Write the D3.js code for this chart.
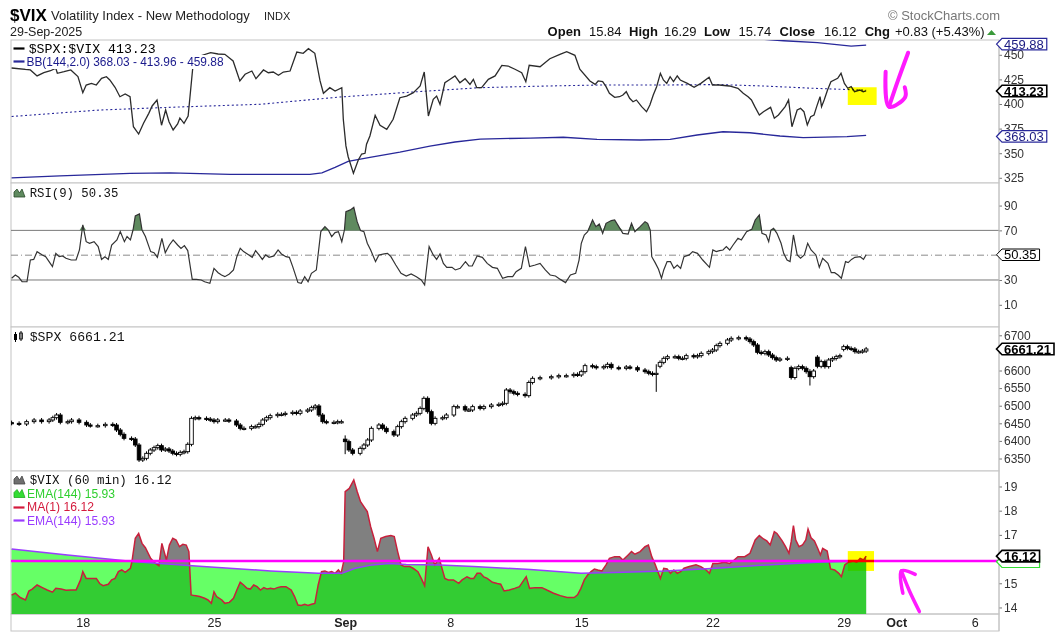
<!DOCTYPE html>
<html>
<head>
<meta charset="utf-8">
<script src="https://cdn.jsdelivr.net/npm/d3@7"></script>
<style>
  body { margin: 0; background: #fff; }
  svg text { font-family: "Liberation Sans", Arial, sans-serif; }
</style>
</head>
<body>
<div id="chart"></div>
<script>
// trading sessions shown on the axis (7 hourly bars each, data starts on bar 2 of the first one)
const sessions = ["2025-08-13","2025-08-14","2025-08-15","2025-08-18","2025-08-19","2025-08-20","2025-08-21","2025-08-22",
  "2025-08-25","2025-08-26","2025-08-27","2025-08-28","2025-08-29","2025-09-02","2025-09-03","2025-09-04","2025-09-05",
  "2025-09-08","2025-09-09","2025-09-10","2025-09-11","2025-09-12","2025-09-15","2025-09-16","2025-09-17","2025-09-18",
  "2025-09-19","2025-09-22","2025-09-23","2025-09-24","2025-09-25","2025-09-26","2025-09-29","2025-09-30","2025-10-01",
  "2025-10-02","2025-10-03","2025-10-06","2025-10-07"];
const barsPerSession = 7;
const firstBar = 2;

// $SPX:$VIX ratio  [bar, value]
const ratio = [[0,436.6],[5.0,434.6],[6.8,428.5],[8.6,431.8],[10.4,433.8],[11.8,436.3],[12.2,431.2],[14.0,432.8],[15.8,434.6],
  [17.7,427.8],[19.0,411.5],[19.9,419.3],[21.3,421.0],[22.6,419.3],[24.0,426.1],[25.3,427.7],[26.2,424.4],[27.6,417.0],
  [28.9,407.4],[30.3,410.2],[31.6,407.4],[32.5,376.9],[33.9,369.5],[35.2,380.4],[36.6,390.5],[37.5,398.0],[38.8,404.1],
  [40.0,378.4],[41.1,393.9],[42.0,382.0],[43.1,373.6],[44.3,379.7],[44.9,385.8],[46.0,380.4],[47.1,387.8],[48.3,435.3],
  [50.3,448.8],[53.1,452.1],[55.1,450.8],[56.9,450.5],[59.1,443.7],[60.9,423.4],[62.3,430.2],[64.1,433.5],[65.2,425.7],
  [67.2,434.6],[68.5,431.8],[69.8,432.5],[71.2,429.2],[72.5,432.5],[74.3,433.5],[76.1,452.8],[77.8,451.5],[79.2,456.2],
  [80.9,451.5],[82.3,423.4],[83.2,410.9],[84.9,416.6],[86.3,413.2],[88.1,416.6],[88.5,384.5],[89.2,357.4],[89.8,346.4],
  [91.2,329.6],[92.5,343.1],[93.4,349.2],[94.3,349.9],[94.7,359.1],[95.6,367.5],[97.0,388.5],[98.3,378.4],[100.1,374.3],
  [101.8,384.5],[103.6,406.4],[105.4,408.1],[107.2,411.5],[109.0,418.3],[110.1,432.5],[111.2,387.8],[112.5,404.8],
  [113.4,408.1],[114.3,399.7],[115.6,421.6],[117.0,425.1],[118.3,428.5],[119.6,421.6],[121.0,425.7],[122.3,420.0],
  [123.2,425.1],[124.1,416.6],[125.4,416.6],[127.2,425.1],[129.0,428.5],[130.8,439.3],[132.5,438.6],[134.3,435.3],
  [136.1,431.8],[137.2,422.7],[138.1,439.3],[141.0,437.9],[143.6,446.0],[146.3,450.5],[148.1,453.2],[150.3,449.5],
  [151.6,435.3],[154.3,423.4],[155.7,420.0],[156.5,423.4],[157.7,422.7],[158.6,417.6],[159.5,410.9],[160.9,406.8],
  [162.2,407.4],[163.1,409.1],[164.0,412.5],[164.9,405.8],[165.8,402.3],[166.7,404.1],[168.1,397.3],[169.4,392.2],
  [170.3,399.0],[171.2,409.1],[172.1,417.6],[173.1,431.2],[173.9,424.4],[174.8,421.0],[175.7,427.7],[176.6,422.7],
  [177.6,428.5],[178.4,424.4],[180.3,421.0],[182.1,417.0],[183.9,421.0],[186.1,427.1],[187.0,419.3],[188.8,419.3],
  [191.5,418.3],[193.8,416.0],[195.2,410.9],[196.5,407.4],[197.4,404.1],[198.3,397.3],[199.5,388.8],[200.6,392.2],
  [202.5,396.6],[203.5,385.5],[204.6,388.8],[206.4,397.3],[207.3,404.1],[208.2,376.9],[209.6,393.9],[210.5,395.6],
  [211.4,392.2],[212.3,378.7],[213.2,387.1],[214.1,388.8],[214.8,397.3],[215.7,407.4],[216.1,397.3],[216.8,404.1],
  [217.7,414.2],[218.6,422.7],[220.4,426.1],[221.3,431.2],[222.2,421.0],[223.1,416.0],[224.0,417.6],[224.9,412.5],
  [226.3,414.2],[227.2,412.5],[228,413.23]];

// Bollinger bands (144, 2.0) on the ratio
const bbUpper = [[0,478],[25,470],[46,465.8],[70,472],[100,478],[130,476],[160,472],[185,468],[199.7,466],[206,464.3],
  [215,462.3],[224,458.9],[228,459.88]];
const bbMiddle = [[0,387.3],[23.6,393.9],[44.9,397.0],[66.3,399.7],[87.6,407.1],[107.1,412.2],[125,416.6],[142.9,418.3],
  [157,419.3],[173.8,419.3],[188.2,419.8],[200.5,418.3],[213.8,416.0],[228,413.96]];
const bbLower = [[0,325.0],[12.9,327.0],[31.6,329.5],[42.3,330.0],[58.3,328.5],[79.6,328.5],[82.8,330.0],[86.3,335.6],
  [89.8,341.7],[95.6,345.8],[103.6,351.2],[111.6,357.3],[118.3,361.4],[125,364.4],[138.4,365.4],[147.2,366.2],
  [156.2,364.1],[167.7,363.4],[175.7,364.1],[182.9,368.5],[189.8,371.8],[197,370.8],[205,367.5],[211.2,365.8],
  [222.9,366.8],[228,368.03]];

// RSI(9)
const rsi = [[0,31.4],[1.0,34.0],[1.9,32.2],[2.8,28.6],[4.1,28.6],[5.0,46.1],[5.9,46.6],[6.8,52.8],[8.2,50.2],[9.1,48.8],
  [10.0,44.8],[10.9,40.8],[11.8,51.5],[12.7,48.8],[13.6,49.4],[14.5,47.5],[15.9,46.1],[17.2,46.1],[18.1,54.2],[19.0,74.4],
  [19.9,60.9],[20.8,59.6],[22.0,60.9],[23.1,56.9],[24.0,46.6],[24.9,48.8],[25.8,46.6],[26.7,58.2],[28.1,62.3],[29.0,69.0],
  [30.1,60.9],[30.8,65.0],[31.7,62.3],[32.4,70.3],[33.0,81.6],[34.1,83.2],[34.8,70.3],[35.7,65.0],[37.1,52.9],[38.0,52.0],
  [38.9,48.3],[40.1,63.6],[41.0,52.0],[42.1,58.2],[43.1,62.3],[44.3,58.2],[45.2,55.5],[46.1,57.7],[47.0,53.7],[48.2,30.5],
  [49.3,30.5],[50.6,30.0],[51.5,28.6],[52.9,27.3],[54.0,39.4],[55.1,35.9],[56.0,34.0],[56.9,32.7],[58.1,34.9],[59.2,38.1],
  [60.1,48.8],[61.0,55.5],[61.9,52.9],[63.3,50.2],[64.2,48.3],[65.1,53.7],[66.0,50.2],[66.9,46.6],[67.8,50.2],[68.7,48.3],
  [70.0,49.4],[71.1,54.2],[72.0,51.0],[73.2,48.8],[74.1,48.3],[75.0,40.8],[76.4,27.9],[77.3,27.3],[78.2,32.7],[79.1,28.6],
  [80.0,35.4],[81.3,38.1],[82.5,69.0],[83.6,73.0],[84.5,70.3],[85.4,65.0],[86.3,68.2],[87.2,69.0],[88.1,60.9],[88.8,70.3],
  [89.2,85.1],[90.4,86.5],[91.3,88.6],[92.2,77.0],[93.1,69.8],[94.0,69.0],[94.9,59.6],[95.8,54.2],[97.1,44.8],[98.0,50.2],
  [99.4,51.0],[100.3,51.5],[101.2,48.8],[102.5,42.1],[103.9,35.4],[105.3,33.2],[106.6,34.9],[108.0,32.7],[109.3,30.0],
  [110.2,26.0],[111.4,56.9],[112.5,50.2],[113.4,46.6],[114.3,51.0],[115.2,43.4],[116.1,40.2],[117.5,40.2],[118.4,38.1],
  [119.7,39.4],[121.1,44.8],[122.0,41.3],[122.9,41.3],[124.2,49.4],[125.6,48.3],[126.9,43.4],[128.3,40.2],[129.6,39.4],
  [131.0,31.4],[132.4,32.7],[133.7,32.7],[134.6,36.7],[136.0,39.4],[137.1,56.9],[138.2,40.8],[139.7,42.1],[141.0,43.4],
  [142.4,38.1],[143.7,34.0],[145.1,33.2],[146.4,30.5],[147.8,27.9],[149.1,34.0],[150.5,35.4],[151.4,46.1],[152.0,59.6],
  [152.8,66.3],[153.7,69.0],[155.0,78.4],[155.9,73.0],[156.8,75.2],[157.7,67.6],[158.6,75.7],[160.0,77.9],[160.9,78.4],
  [162.0,73.0],[163.1,67.6],[164.5,67.1],[165.4,75.7],[166.3,69.0],[167.7,73.0],[169.0,77.0],[169.7,75.7],[170.4,70.3],
  [170.8,48.8],[171.7,44.0],[172.6,38.6],[173.4,31.4],[174.0,38.1],[174.9,44.8],[175.8,44.8],[176.7,39.4],[177.6,42.1],
  [178.5,39.4],[179.4,48.8],[180.8,50.2],[181.7,52.9],[183.0,51.5],[184.4,46.1],[186.2,40.2],[187.1,54.2],[188.0,52.9],
  [188.9,53.7],[189.8,54.2],[190.7,56.9],[191.6,54.2],[192.5,58.2],[193.8,63.6],[194.7,62.3],[196.1,69.0],[197.5,70.9],
  [198.4,78.4],[199.5,82.4],[200.2,67.6],[201.3,66.3],[202.0,60.9],[202.6,70.3],[203.3,71.6],[204.2,67.6],[205.3,59.6],
  [206.0,51.5],[206.9,46.1],[207.7,44.8],[208.6,66.3],[209.6,50.2],[210.5,47.5],[211.5,50.2],[212.4,59.6],[213.3,54.2],
  [214.6,50.2],[215.5,40.2],[216.4,47.5],[217.8,43.4],[218.7,35.9],[219.6,35.9],[220.5,34.0],[221.4,31.4],[222.5,44.8],
  [223.2,44.0],[224.1,46.6],[225.0,48.3],[226.4,48.8],[227.3,46.6],[228,50.35]];
const rsiLevels = [30, 50, 70];

// $SPX hourly candles  [bar, close, open?, high?, low?]  (open defaults to the previous close)
const spx = [[0,6449.9,6452],[2,6448.0],[4,6454.7],[6,6459.4],[8,6454.7],[10,6459.4],[11,6466.0],[12,6473.6],[13,6452.8],
  [15,6454.7],[16,6459.4],[18,6452.8],[20,6445.2],[21,6443.3],[23,6443.3],[25,6447.1],[27,6445.2],[28,6431.0],[29,6418.7],
  [30,6407.3],[32,6405.4],[33,6388.4],[34,6345.8],[35,6350.5],[36,6364.7],[37,6374.2],[38,6380.8],[39,6386.5],[40,6374.2],
  [41,6377.0],[42,6371.3],[43,6364.7],[44,6361.9],[45,6367.5],[46,6369.4],[47,6390.3],[48,6464.1],[49,6466.0],[50,6464.1],
  [52,6462.2],[53,6459.4],[54,6454.7],[55,6459.4],[57,6459.4],[58,6456.6],[60,6445.2],[61,6435.7],[62,6435.7],[64,6440.5],
  [65,6440.5],[66,6447.1],[67,6459.4],[68,6466.0],[69,6471.7],[71,6475.5],[72,6475.5],[73,6478.3],[75,6481.2],[76,6478.3],
  [77,6484.9],[79,6487.8],[80,6494.4],[81,6499.2],[82,6473.6],[83,6454.7],[84,6452.8],[86,6452.8],[87,6454.7],[88,6454.7],
  [89,6397.9,6405,6410,6368],[90,6374.2],[91,6364.7],[93,6378.9],[94,6388.4],[95,6402.6],[96,6435.7],[98,6445.2],
  [99,6435.7],[100,6426.3],[102,6416.8],[103,6440.5],[104,6454.7],[105,6464.1],[107,6473.6],[108,6478.3],[109,6492.5],
  [110,6521.0],[111,6483.1],[112,6449.9],[113,6464.1],[115,6466.0],[116,6473.6],[118,6497.3],[119,6497.3],[121,6487.8],
  [122,6487.8],[123,6497.3],[125,6492.5],[126,6497.3],[128,6502.0],[130,6503.9],[131,6506.8],[132,6544.6],[133,6539.9],
  [134,6535.2],[135,6532.3],[137,6528.5],[138,6566.0],[139,6577.8],[141,6579.7],[144,6582.5],[146,6585.4],[148,6585.4],
  [150,6589.1],[151,6587.3],[152,6596.7],[153,6613.8],[155,6611.0],[156,6608.1],[158,6611.0],[159,6617.6],[160,6608.1],
  [162,6606.2],[164,6610.0],[165,6608.1],[167,6601.5],[169,6596.7],[170,6592.0],[171,6589.1],[172,6592.0,6589.1,6612,6545],
  [173,6623.2,6612],[174,6634.6],[175,6639.3],[177,6639.3],[178,6634.6],[179,6634.6],[180,6642.2],[182,6639.3],[183,6642.2],
  [184,6648.8],[186,6653.5],[187,6658.3],[188,6670.6],[189,6677.2],[191,6686.7],[192,6691.4],[194,6693.3],[196,6689.5],
  [197,6682.0],[198,6672.5],[199,6651.6],[200,6648.8],[201,6653.5],[202,6644.1],[203,6636.5],[204,6629.9],[205,6632.7],
  [207,6634.6],[208,6580.0,6608],[209,6606.2],[210,6611.0],[211,6606.2],[212,6596.7],[213,6582.5,6596.7,6598,6563],
  [214,6598.6],[215,6612.0,6638],[216,6625.1],[217,6611.0],[218,6629.9],[219,6634.0],[220,6639.3],[221,6642.2],
  [222,6667.7,6660],[223,6663.0],[224,6661.1],[225,6653.5],[226,6653.5],[227,6655.4],[228,6661.21]];

// $VIX (60 min) and its EMA(144)
const vix = [[0,14.51],[1.0,14.59],[2.3,14.41],[3.7,14.31],[4.6,14.68],[5.5,14.76],[6.8,14.93],[8.2,14.82],[9.5,14.72],
  [10.9,14.63],[11.8,14.79],[13.2,14.76],[14.5,14.71],[15.9,14.72],[17.2,14.72],[18.4,15.14],[19.0,15.48],[19.9,15.20],
  [21.3,15.20],[22.6,15.20],[23.5,14.99],[24.4,14.90],[25.8,14.96],[26.7,15.14],[27.6,15.20],[28.5,15.48],[29.4,15.55],
  [30.3,15.45],[31.7,15.62],[32.1,15.89],[33.0,16.86],[33.9,17.06],[34.8,16.65],[35.7,16.47],[37.1,16.03],[38.4,15.82],
  [39.3,15.73],[40.1,16.65],[40.7,16.31],[41.3,15.96],[42.1,16.58],[43.0,16.86],[43.9,16.79],[44.8,16.51],[45.7,16.61],
  [46.6,16.58],[47.3,16.31],[47.9,14.52],[48.8,14.49],[50.2,14.45],[51.5,14.38],[52.4,14.31],[53.3,14.17],[54.0,14.65],
  [54.7,14.45],[56.1,14.31],[56.9,14.17],[58.1,14.21],[59.2,14.38],[60.1,14.72],[61.0,15.04],[61.9,14.93],[62.8,14.79],
  [63.7,14.76],[64.6,14.93],[65.5,14.86],[66.4,14.72],[67.3,14.82],[68.2,14.76],[69.1,14.79],[70.0,14.76],[70.9,14.82],
  [71.9,14.86],[73.2,14.86],[74.6,14.72],[75.5,14.45],[76.4,14.10],[77.3,14.08],[78.2,14.13],[79.1,14.08],[80.0,14.13],
  [80.9,14.17],[81.8,14.93],[82.7,15.48],[83.6,15.51],[84.5,15.45],[85.4,15.48],[86.3,15.41],[87.2,15.55],[87.9,15.41],
  [88.6,15.89],[89.0,18.79],[90.1,18.92],[91.3,19.27],[92.2,18.79],[93.1,18.37],[94.0,18.17],[94.9,17.96],[95.8,17.34],
  [96.7,16.86],[97.6,16.31],[98.5,16.86],[99.8,16.93],[101.2,16.97],[102.1,16.93],[103.0,16.31],[103.9,15.76],[104.8,15.69],
  [106.2,15.69],[107.1,15.62],[108.4,15.48],[109.3,15.20],[110.2,14.90],[111.1,16.51],[112.0,16.17],[112.9,15.76],
  [114.1,16.03],[114.7,15.69],[115.6,15.20],[116.5,15.14],[117.9,15.14],[119.3,15.00],[120.2,15.14],[121.5,15.27],
  [122.4,15.20],[123.3,15.20],[124.2,15.41],[125.1,15.41],[126.0,15.26],[126.9,15.20],[128.3,15.04],[129.6,14.99],
  [130.5,14.96],[131.4,14.68],[132.8,14.72],[134.2,14.79],[135.5,14.86],[136.4,15.07],[137.3,15.27],[138.2,14.79],
  [139.7,14.82],[141.5,14.82],[142.8,14.72],[144.6,14.59],[146.4,14.49],[148.2,14.41],[150.1,14.41],[151.0,14.52],
  [151.9,14.79],[152.8,15.14],[153.7,15.34],[154.6,15.48],[155.5,15.59],[156.4,15.55],[157.5,15.51],[158.6,15.76],
  [159.5,16.03],[160.9,16.10],[162.2,16.10],[163.1,15.96],[164.5,16.17],[165.4,16.31],[166.3,16.20],[167.7,16.31],
  [169.0,16.51],[169.9,16.58],[170.8,16.10],[171.7,15.78],[173.1,15.20],[174.0,15.62],[174.9,15.59],[175.8,15.41],
  [176.7,15.55],[177.6,15.41],[178.5,15.48],[179.4,15.62],[180.8,15.69],[182.6,15.76],[183.9,15.69],[185.3,15.55],
  [186.2,15.41],[187.1,15.82],[188.4,15.82],[190.2,15.87],[191.6,15.82],[192.5,15.92],[193.8,16.10],[195.6,16.10],
  [197.0,16.24],[198.4,16.79],[199.5,16.97],[200.6,16.83],[201.5,16.75],[202.4,16.58],[203.5,17.13],[204.2,17.06],
  [205.6,16.75],[206.5,16.51],[207.4,16.24],[208.0,16.72],[208.6,17.38],[209.2,16.79],[210.1,16.51],[211.0,16.58],
  [211.9,16.79],[212.5,17.24],[213.3,16.88],[214.2,16.75],[215.1,16.44],[215.8,16.17],[216.4,16.44],[217.6,16.33],
  [218.5,15.59],[219.6,15.55],[220.7,15.41],[221.4,15.27],[222.3,15.76],[223.2,15.87],[224.6,15.92],[225.5,15.87],
  [226.4,16.03],[227.3,15.96],[228,16.12]];
const vixEma = [[0,16.42],[14.9,16.17],[33.0,15.89],[51.1,15.69],[69.1,15.51],[81.8,15.41],[88.1,15.41],[91.7,15.62],
  [96.2,15.76],[100.7,15.82],[105.3,15.78],[114.3,15.76],[123.3,15.69],[138.4,15.57],[151.9,15.41],[160.9,15.45],
  [174.4,15.51],[188.0,15.62],[201.5,15.76],[215.1,15.87],[228,15.93]];

// quote header
const qOpen = 15.84, qHigh = 16.29, qLow = 15.74, qClose = 16.12, qChg = 0.83, qPct = 5.43;

// hand-drawn annotations (data units)
const markLevel = 15.92;
const ratioArrow = [[[239.2,452.1],[236.5,424],[234.1,397.3]], [[233.2,432.8],[234.1,397.3],[238.4,406.9],[238.3,417.0]]];
const vixArrow = [[[242.2,13.83],[239.5,14.7],[237.4,15.51]], [[241.1,15.37],[237.4,15.51],[237.8,14.59]]];
const ratioHighlight = [223.1, 230.8, 399.0, 417.0];
const vixHighlight = [223.1, 230.1, 15.51, 16.33];

const W = 1059, H = 634;
const L = 11, R = 999;
const svg = d3.select("#chart").append("svg").attr("width", W).attr("height", H);

const x = d3.scaleLinear().domain([-0.16, (R - 11.6) / 3.748]).range([L, R]);

const yRatio = d3.scaleLinear().domain([319.72, 465.04]).range([183, 40]);
const yRsi = d3.scaleLinear().domain([-7.9, 108.2]).range([327, 183]);
const ySpx = d3.scaleLinear().domain([6314.5, 6723.6]).range([471, 327]);
const yVix = d3.scaleLinear().domain([13.73, 19.64]).range([614, 471]);

// tick labels that sit under a value tag are left blank, as on the original
const panels = [
  {id: "p1", y: yRatio, ticks: [325, 350, 375, 400, 425, 450], hidden: []},
  {id: "p2", y: yRsi, ticks: [10, 30, 50, 70, 90], hidden: [50]},
  {id: "p3", y: ySpx, ticks: [6350, 6400, 6450, 6500, 6550, 6600, 6650, 6700], hidden: [6650]},
  {id: "p4", y: yVix, ticks: [14, 15, 16, 17, 18, 19], hidden: [16]}
];

const defs = svg.append("defs");
panels.forEach(p => {
  const [b, t] = p.y.range();
  defs.append("clipPath").attr("id", "clip-" + p.id)
    .append("rect").attr("x", L).attr("y", t).attr("width", R - L).attr("height", b - t);
});

// ---------- header ----------
svg.append("text").attr("x", 10).attr("y", 20.5).style("font-size", "17px").style("font-weight", "bold").text("$VIX");
svg.append("text").attr("x", 51).attr("y", 20).style("font-size", "13px").attr("fill", "#222").text("Volatility Index - New Methodology");
svg.append("text").attr("x", 264).attr("y", 20).style("font-size", "11px").attr("fill", "#222").text("INDX");
svg.append("text").attr("x", 10).attr("y", 36).style("font-size", "12.5px").attr("fill", "#222").text("29-Sep-2025");
svg.append("text").attr("x", 888).attr("y", 20).style("font-size", "13px").attr("fill", "#777").text("\u00a9 StockCharts.com");

const quote = [["Open", true, 547.6], [qOpen.toFixed(2), false, 589], ["High", true, 629], [qHigh.toFixed(2), false, 664],
  ["Low", true, 704], [qLow.toFixed(2), false, 738.6], ["Close", true, 779.5], [qClose.toFixed(2), false, 824],
  ["Chg", true, 864.7], [`+${qChg.toFixed(2)} (+${qPct.toFixed(2)}%)`, false, 895]];
quote.forEach(([t, bold, px]) => {
  svg.append("text").attr("x", px).attr("y", 35.5).style("font-size", "13px")
    .style("font-weight", bold ? "bold" : "normal").attr("fill", "#111").text(t);
});
svg.append("path").attr("d", "M987,35 L996,35 L991.5,30 Z").attr("fill", "#3a9a3a");

// ---------- panel frames ----------
panels.forEach(p => {
  const [b, t] = p.y.range();
  svg.append("rect").attr("x", L).attr("y", t).attr("width", R - L).attr("height", b - t)
    .attr("fill", "#fff").attr("stroke", "#c4c4c4");
});
svg.append("rect").attr("x", L).attr("y", 614).attr("width", R - L).attr("height", 17)
  .attr("fill", "none").attr("stroke", "#c4c4c4");

const lineOf = y => d3.line().x(d => x(d[0])).y(d => y(d[1]));

// ---------- panel 1: ratio + BB ----------
const g1 = svg.append("g").attr("clip-path", "url(#clip-p1)");
const bbColor = "#28289a";
g1.append("path").datum(bbUpper).attr("d", lineOf(yRatio)).attr("fill", "none").attr("stroke", bbColor).attr("stroke-width", 1.3);
g1.append("path").datum(bbLower).attr("d", lineOf(yRatio)).attr("fill", "none").attr("stroke", bbColor).attr("stroke-width", 1.3);
g1.append("path").datum(bbMiddle).attr("d", lineOf(yRatio)).attr("fill", "none").attr("stroke", bbColor)
  .attr("stroke-width", 1.1).attr("stroke-dasharray", "2,2.5");
g1.append("path").datum(ratio).attr("d", lineOf(yRatio)).attr("fill", "none").attr("stroke", "#2b2b2b").attr("stroke-width", 1.3);

// ---------- panel 2: RSI ----------
const g2 = svg.append("g").attr("clip-path", "url(#clip-p2)");
rsiLevels.forEach(v => {
  g2.append("line").attr("x1", L).attr("x2", R).attr("y1", yRsi(v)).attr("y2", yRsi(v))
    .attr("stroke", v === 50 ? "#8a8a8a" : "#7a7a7a").attr("stroke-width", 1)
    .attr("stroke-dasharray", v === 50 ? "7,3,1,3" : null);
});
g2.append("path").datum(rsi)
  .attr("d", d3.area().x(d => x(d[0])).y0(yRsi(70)).y1(d => yRsi(Math.max(d[1], 70))))
  .attr("fill", "#5f8a5f");
g2.append("path").datum(rsi).attr("d", lineOf(yRsi)).attr("fill", "none").attr("stroke", "#333").attr("stroke-width", 1.2);

// ---------- panel 3: SPX candles ----------
const g3 = svg.append("g").attr("clip-path", "url(#clip-p3)");
let prevClose = null;
const candles = spx.map(d => {
  const c = d[1];
  const o = d.length > 2 ? d[2] : (prevClose === null ? c : prevClose);
  const h = d.length > 3 ? d[3] : Math.max(o, c);
  const l = d.length > 4 ? d[4] : Math.min(o, c);
  prevClose = c;
  return {b: d[0], o, c, h, l};
});
g3.selectAll("line.wick").data(candles).enter().append("line")
  .attr("x1", d => x(d.b)).attr("x2", d => x(d.b))
  .attr("y1", d => ySpx(d.h) - 2).attr("y2", d => ySpx(d.l) + 2)
  .attr("stroke", "#000").attr("stroke-width", 1);
g3.selectAll("rect.body").data(candles).enter().append("rect")
  .attr("x", d => x(d.b) - 1.8).attr("width", 3.6)
  .attr("y", d => ySpx(Math.max(d.o, d.c)))
  .attr("height", d => Math.max(1.2, Math.abs(ySpx(d.o) - ySpx(d.c))))
  .attr("fill", d => d.c >= d.o ? "#fff" : "#000")
  .attr("stroke", "#000").attr("stroke-width", 0.9);

// ---------- panel 4: VIX ----------
const g4 = svg.append("g").attr("clip-path", "url(#clip-p4)");
const areaOf = data => d3.area().x(d => x(d[0])).y0(614).y1(d => yVix(d[1]))(data);
g4.append("path").attr("d", areaOf(vix)).attr("fill", "#808080");
g4.append("path").attr("d", areaOf(vixEma)).attr("fill", "#00ff00").attr("fill-opacity", 0.6);
g4.append("path").datum(vix).attr("d", lineOf(yVix)).attr("fill", "none").attr("stroke", "#c8203c").attr("stroke-width", 1.5);
g4.append("path").datum(vixEma).attr("d", lineOf(yVix)).attr("fill", "none").attr("stroke", "#9a3cff").attr("stroke-width", 1.5);
g4.append("line").attr("x1", L).attr("x2", R).attr("y1", yVix(markLevel)).attr("y2", yVix(markLevel))
  .attr("stroke", "#ff00ff").attr("stroke-width", 2.5);

// highlights
svg.append("rect").attr("x", x(ratioHighlight[0])).attr("width", x(ratioHighlight[1]) - x(ratioHighlight[0]))
  .attr("y", yRatio(ratioHighlight[3])).attr("height", yRatio(ratioHighlight[2]) - yRatio(ratioHighlight[3]))
  .attr("fill", "#ffff00").style("mix-blend-mode", "multiply");
svg.append("rect").attr("x", x(vixHighlight[0])).attr("width", x(vixHighlight[1]) - x(vixHighlight[0]))
  .attr("y", yVix(vixHighlight[3])).attr("height", yVix(vixHighlight[2]) - yVix(vixHighlight[3]))
  .attr("fill", "#ffff00").style("mix-blend-mode", "multiply");

// magenta arrows
const curve = y => d3.line().x(d => x(d[0])).y(d => y(d[1])).curve(d3.curveCatmullRom);
ratioArrow.forEach(s => svg.append("path").attr("d", curve(yRatio)(s)).attr("fill", "none")
  .attr("stroke", "#ff1aff").attr("stroke-width", 4).attr("stroke-linecap", "round").attr("stroke-linejoin", "round"));
vixArrow.forEach(s => svg.append("path").attr("d", curve(yVix)(s)).attr("fill", "none")
  .attr("stroke", "#ff1aff").attr("stroke-width", 3.5).attr("stroke-linecap", "round").attr("stroke-linejoin", "round"));

// ---------- right axes ----------
panels.forEach(p => {
  const ax = svg.append("g").attr("transform", `translate(${R},0)`)
    .call(d3.axisRight(p.y).tickValues(p.ticks).tickSize(3).tickPadding(2)
      .tickFormat(v => p.hidden.includes(v) ? "" : d3.format("d")(v)));
  ax.select(".domain").remove();
  ax.selectAll("line").attr("stroke", "#777");
  ax.selectAll("text").style("font-size", "12px").style("font-family", "'Liberation Sans', Arial, sans-serif").attr("fill", "#333");
});
svg.append("line").attr("x1", R).attr("x2", R).attr("y1", 40).attr("y2", 631).attr("stroke", "#c4c4c4");

// value tags
function tag(yPos, text, o) {
  const g = svg.append("g");
  const t = g.append("text").attr("x", R + 5).attr("y", yPos).attr("dy", "0.36em")
    .style("font-size", "13px").style("font-weight", o.bold ? "bold" : "normal").attr("fill", o.color).text(text);
  const w = o.width || t.node().getComputedTextLength();
  if (o.noText) t.remove();
  const h = 11.5, x0 = R - 2.5, x1 = R + 3, x2 = R + 8 + w;
  g.insert("path", "text")
    .attr("d", `M${x0},${yPos} L${x1},${yPos - h / 2} L${x2},${yPos - h / 2} L${x2},${yPos + h / 2} L${x1},${yPos + h / 2} Z`)
    .attr("fill", "#fff").attr("stroke", o.stroke).attr("stroke-width", o.sw);
}
const last = arr => arr[arr.length - 1][1];
tag(yRatio(last(bbUpper)) - 1, last(bbUpper).toFixed(2), {color: "#1a1a80", stroke: bbColor, sw: 1.2});
tag(yRatio(last(bbLower)) + 1, last(bbLower).toFixed(2), {color: "#1a1a80", stroke: bbColor, sw: 1.2});
tag(yRatio(last(ratio)), last(ratio).toFixed(2), {color: "#000", stroke: "#000", sw: 1.6, bold: true});
tag(yRsi(last(rsi)), last(rsi).toFixed(2), {color: "#000", stroke: "#000", sw: 1});
tag(ySpx(last(spx)), last(spx).toFixed(2), {color: "#000", stroke: "#000", sw: 1.6, bold: true});
// EMA tag sits behind the VIX tag; only its green edge shows
tag(yVix(last(vixEma)) + 1, last(vixEma).toFixed(2), {color: "#22aa22", stroke: "#33dd33", sw: 1.2, noText: true});
tag(yVix(last(vix)), last(vix).toFixed(2), {color: "#000", stroke: "#000", sw: 1.6, bold: true});

// ---------- x axis ----------
const monthFmt = d3.timeFormat("%b");
const dates = sessions.map(s => new Date(s + "T12:00:00"));
const xTicks = [];
dates.forEach((d, i) => {
  if (i === 0) return;
  const prev = dates[i - 1];
  const bar = i * barsPerSession - firstBar;
  if (d.getMonth() !== prev.getMonth()) xTicks.push({bar, label: monthFmt(d), bold: true});
  else if (d.getDay() < prev.getDay()) xTicks.push({bar, label: String(d.getDate()), bold: false});
});
const xa = svg.append("g").attr("transform", "translate(0,614)")
  .call(d3.axisBottom(x).tickValues(xTicks.map(t => t.bar)).tickSize(0).tickPadding(4)
    .tickFormat((v, i) => xTicks[i].label));
xa.select(".domain").remove();
xa.selectAll("text").style("font-size", "12.5px").style("font-family", "'Liberation Sans', Arial, sans-serif")
  .attr("fill", "#222").style("font-weight", (v, i) => xTicks[i].bold ? "bold" : "normal");

// ---------- legends ----------
function legendText(px, py, str, color, len, mono) {
  const t = svg.append("text").attr("x", px).attr("y", py).attr("fill", color)
    .style("font-size", mono ? "13px" : "12px")
    .style("font-family", mono ? "'Liberation Mono', 'DejaVu Sans Mono', monospace" : "'Liberation Sans', Arial, sans-serif")
    .text(str);
  if (len) t.attr("textLength", len).attr("lengthAdjust", "spacingAndGlyphs");
  const bb = t.node().getBBox();
  svg.insert("rect", () => t.node()).attr("x", bb.x - 1).attr("y", bb.y).attr("width", bb.width + 2).attr("height", bb.height).attr("fill", "#fff");
  return t;
}
function sample(y, color) {
  svg.append("line").attr("x1", 13.5).attr("x2", 24.5).attr("y1", y).attr("y2", y).attr("stroke", color).attr("stroke-width", 2.2);
}
function mountain(y0, fill, stroke) {
  svg.append("path").attr("d", `M14,${y0} L14,${y0 - 5} L17,${y0 - 8} L19.5,${y0 - 4} L22,${y0 - 8} L25,${y0} Z`)
    .attr("fill", fill).attr("stroke", stroke).attr("stroke-width", 0.8);
}

legendText(28.7, 53, `$SPX:$VIX ${last(ratio).toFixed(2)}`, "#000", 127, true);
sample(48.5, "#000");
legendText(26.5, 66, `BB(144,2.0) ${last(bbLower).toFixed(2)} - ${last(bbMiddle).toFixed(2)} - ${last(bbUpper).toFixed(2)}`, "#1a1a8c", 197, false);
sample(61.5, bbColor);

mountain(197, "#5f8a5f", "#2a4a2a");
legendText(29.7, 197, `RSI(9) ${last(rsi).toFixed(2)}`, "#111", 88.6, true);

svg.append("rect").attr("x", 14).attr("y", 334).attr("width", 3).attr("height", 6).attr("fill", "#000");
svg.append("rect").attr("x", 19.5).attr("y", 333).attr("width", 3).attr("height", 6).attr("fill", "#fff").attr("stroke", "#000").attr("stroke-width", 0.8);
svg.append("line").attr("x1", 15.5).attr("x2", 15.5).attr("y1", 332).attr("y2", 342).attr("stroke", "#000");
svg.append("line").attr("x1", 21).attr("x2", 21).attr("y1", 331).attr("y2", 341).attr("stroke", "#000");
legendText(29.7, 341, `$SPX ${last(spx).toFixed(2)}`, "#111", 95, true);

mountain(484, "#6f6f6f", "#444");
legendText(29.7, 484, `$VIX (60 min) ${last(vix).toFixed(2)}`, "#111", 142, true);
mountain(497.5, "#33dd33", "#22aa22");
legendText(27, 497.5, `EMA(144) ${last(vixEma).toFixed(2)}`, "#2fcf2f", 88, false);
sample(507.5, "#d41a3c");
legendText(27, 511, `MA(1) ${last(vix).toFixed(2)}`, "#d41a3c", 67, false);
sample(520.5, "#9a3cff");
legendText(27, 524.5, `EMA(144) ${last(vixEma).toFixed(2)}`, "#9a3cff", 88, false);
</script>
</body>
</html>
